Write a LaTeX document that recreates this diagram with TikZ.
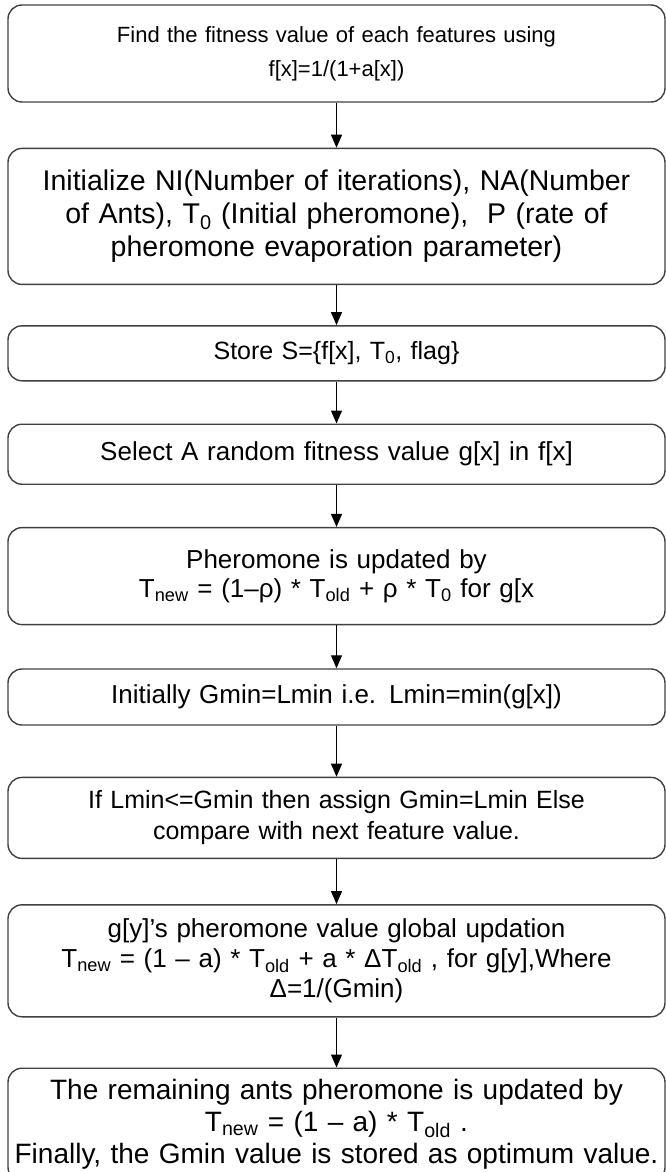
\documentclass[tikz,border=0pt]{standalone}
\usepackage{fontspec}
\setmainfont{Liberation Sans}
\usetikzlibrary{arrows.meta,positioning}
\tikzstyle{block} = [rectangle, rounded corners=14pt, draw=black!75, line width=1.4pt, minimum width=657pt, text width=650pt, align=center, inner sep=0pt]
\tikzstyle{arrow} = [line width=1.2pt, -{Triangle[length=13pt,width=11pt]}, draw=black]
\newcommand{\sz}[2]{\fontsize{#1}{#2}\selectfont}

\begin{document}
\begin{tikzpicture}[x=1pt, y=-1pt]
    \useasboundingbox (0,0) rectangle (666,1172);
    \node[block, minimum height=97pt, font=\sz{22}{34}] (fitness) at (336.5,53.5)
        {Find the fitness value of each features using\\ f[x]=1/(1+a[x])};
    \node[block, minimum height=136pt, font=\sz{28.5}{33}, below=45pt of fitness] (init)
        {Initialize NI(Number of iterations), NA(Number\\ of Ants), T\textsubscript{0} (Initial pheromone),~ P (rate of\\ pheromone evaporation parameter)};
    \node[block, minimum height=55pt, font=\sz{25}{30}, below=40pt of init] (store)
        {Store S=\{f[x], T\textsubscript{0}, flag\}};
    \node[block, minimum height=60pt, font=\sz{26}{30}, below=42pt of store] (select)
        {Select A random fitness value g[x] in f[x]};
    \node[block, minimum height=97pt, font=\sz{26}{29}, below=42pt of select] (local)
        {Pheromone is updated by\\ T\textsubscript{new} = (1--ρ) * T\textsubscript{old} + ρ * T\textsubscript{0} for g[x};
    \node[block, minimum height=56pt, font=\sz{26}{30}, below=43pt of local] (gmin)
        {Initially Gmin=Lmin i.e. Lmin=min(g[x])};
    \node[block, minimum height=81pt, font=\sz{25}{31}, below=51pt of gmin] (compare)
        {If Lmin<=Gmin then assign Gmin=Lmin Else\\ compare with next feature value.};
    \node[block, minimum height=112pt, font=\sz{26}{30}, below=45pt of compare] (global)
        {g[y]'s pheromone value global updation\\ T\textsubscript{new} = (1 -- a) * T\textsubscript{old} + a * ΔT\textsubscript{old} , for g[y],Where\\ Δ=1/(Gmin)};
    \node[block, minimum height=113pt, font=\sz{28}{32}, below=50pt of global] (remain)
        {The remaining ants pheromone is updated by\\ T\textsubscript{new} = (1 -- a) * T\textsubscript{old} .\\ Finally, the Gmin value is stored as optimum value.};
    \path[arrow]
    (fitness) edge (init)
    (init) edge (store)
    (store) edge (select)
    (select) edge (local)
    (local) edge (gmin)
    (gmin) edge (compare)
    (compare) edge (global)
    (global) edge (remain)
    ;
\end{tikzpicture}
\end{document}
